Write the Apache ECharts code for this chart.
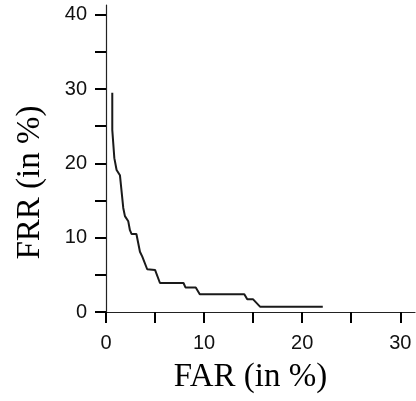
<!DOCTYPE html>
<html lang="en">
<head>
    <meta charset="UTF-8">
    <title>FAR / FRR</title>
    <script src="https://cdn.jsdelivr.net/npm/echarts@6/dist/echarts.min.js"></script>
    <style>
        html, body {margin: 0; padding: 0; background: #fff;}
        #main {width: 416px; height: 401px;}
    </style>
</head>
<body>
<div id="main"></div>
<script>
    // curve (FAR %, FRR %)
    var far = [0.64, 0.64, 0.85, 1.08, 1.42, 1.76, 1.93, 2.27, 2.44, 2.6, 3.1, 3.46, 3.7, 4.2, 5.0, 5.5, 7.9, 8.1, 9.15, 9.56, 14.1, 14.4, 15.0, 15.7, 22.1];
    var frr = [29.5, 24.5, 20.7, 19.1, 18.4, 14.0, 12.9, 12.2, 11.0, 10.5, 10.5, 8.1, 7.45, 5.75, 5.66, 3.9, 3.9, 3.3, 3.3, 2.4, 2.4, 1.7, 1.7, 0.72, 0.72];

    var xTicks = [0, 5, 10, 15, 20, 25, 30];
    var xLabels = [0, 10, 20, 30];
    var yTicks = [0, 5, 10, 15, 20, 25, 30, 35, 40];
    var yLabels = [0, 10, 20, 30, 40];

    var points = far.map(function (v, i) { return [v, frr[i]]; });

    var myChart = echarts.init(document.getElementById('main'));
    var axisCommon = {
        type: 'value',
        min: 0,
        splitLine: {show: false},
        axisLine: {show: true, onZero: false, lineStyle: {color: '#222', width: 1.2}},
        axisTick: {show: true, length: 11, lineStyle: {color: '#000', width: 2}},
        axisLabel: {color: '#111', fontFamily: 'Liberation Sans, Arial, sans-serif', fontSize: 20}
    };

    var option = {
        animation: false,
        grid: {left: 106, right: 1, top: 5, bottom: 89, containLabel: false},
        xAxis: echarts.util.merge({
            max: 31.5,
            name: 'FAR (in %)',
            nameLocation: 'middle',
            nameGap: 49,
            nameTextStyle: {fontFamily: 'Liberation Serif, Times New Roman, serif', fontSize: 33, color: '#000', padding: [0, 20, 0, 0]},
            axisTick: {customValues: xTicks},
            axisLabel: {customValues: xLabels, margin: 21}
        }, axisCommon, false),
        yAxis: echarts.util.merge({
            max: 41.3,
            name: 'FRR (in %)',
            nameLocation: 'middle',
            nameGap: 59,
            nameTextStyle: {fontFamily: 'Liberation Serif, Times New Roman, serif', fontSize: 33, color: '#000', padding: [0, 48, 0, 0]},
            axisTick: {customValues: yTicks},
            axisLabel: {customValues: yLabels, margin: 19}
        }, axisCommon, false),
        series: [{
            type: 'line',
            data: points,
            showSymbol: false,
            lineStyle: {color: '#1a1a1a', width: 2}
        }]
    };
    myChart.setOption(option);
</script>
</body>
</html>
